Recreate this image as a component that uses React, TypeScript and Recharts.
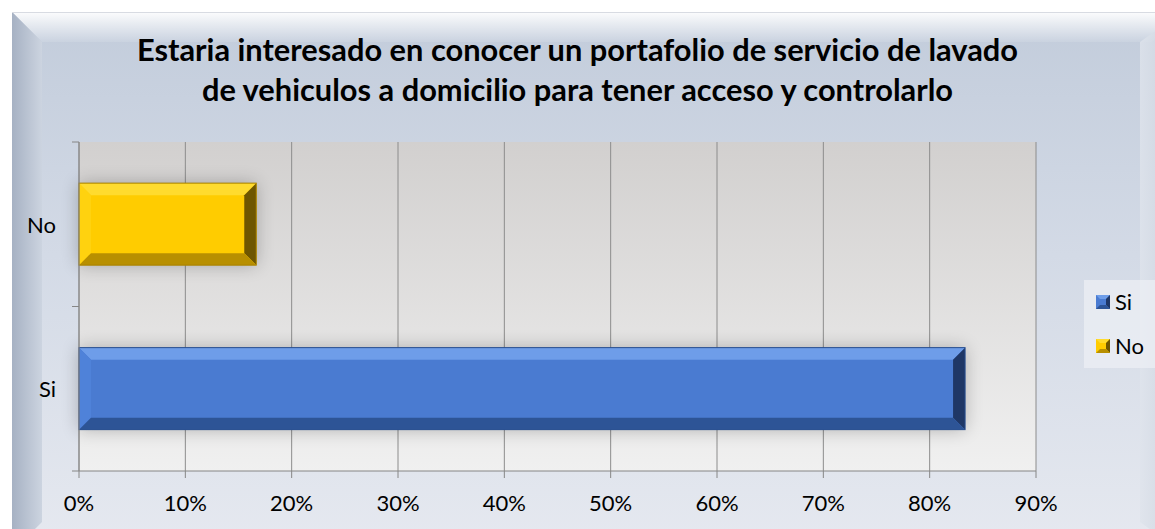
import React from 'react';
import { BarChart, Bar, XAxis, YAxis, CartesianGrid, Cell } from 'recharts';

const categories = ['No', 'Si'];
const values = [16.67, 83.33];
const xTicks = [0, 10, 20, 30, 40, 50, 60, 70, 80, 90];
const legendItems = ['Si', 'No'];
const titleLines = [
  'Estaria interesado en conocer un portafolio de servicio de lavado',
  'de vehiculos a domicilio para tener acceso y controlarlo',
];

const palettes: Record<string, any> = {
  Si: { main: '#4a7bd1', top: '#6e9de9', left: '#4f82d9', right: '#1f3766', bottom: '#2d5496', edge: '#2a4f8f' },
  No: { main: '#ffcc00', top: '#ffdb2e', left: '#ffd20f', right: '#6e5600', bottom: '#b88f00', edge: '#a88200' },
};

const data = categories.map((c, i) => ({ name: c, value: values[i] }));

const FONT = 'Lato, "Open Sans", sans-serif';
const W = 1155;
const H = 529;
const M = { top: 142, right: 119, bottom: 0, left: 0 };
const X_AXIS_H = 58;
const Y_AXIS_W = 79;
const BAND = (H - M.top - M.bottom - X_AXIS_H) / categories.length;

const BevelBar = (props: any) => {
  const { x, y, width, height, payload } = props;
  const c = palettes[payload.name];
  const b = 12;
  const w = width;
  const h = height;
  return (
    <g>
      <rect x={x} y={y} width={w} height={h} fill="#000" opacity={0.25} filter="url(#barShadow)" />
      <rect x={x} y={y} width={w} height={h} fill={c.main} />
      <polygon points={`${x},${y} ${x + w},${y} ${x + w - b},${y + b} ${x + b},${y + b}`} fill={c.top} />
      <polygon points={`${x},${y} ${x + b},${y + b} ${x + b},${y + h - b} ${x},${y + h}`} fill={c.left} />
      <polygon points={`${x + w},${y} ${x + w},${y + h} ${x + w - b},${y + h - b} ${x + w - b},${y + b}`} fill={c.right} />
      <polygon points={`${x},${y + h} ${x + w},${y + h} ${x + w - b},${y + h - b} ${x + b},${y + h - b}`} fill={c.bottom} />
      <rect x={x} y={y} width={w} height={h} fill="none" stroke={c.edge} strokeWidth={1} />
    </g>
  );
};

const YTick = (props: any) => {
  const { y, payload } = props;
  const ax = Y_AXIS_W;
  return (
    <g>
      <line x1={ax - 7} x2={ax} y1={y - BAND / 2} y2={y - BAND / 2} stroke="#868686" />
      <line x1={ax - 7} x2={ax} y1={y + BAND / 2} y2={y + BAND / 2} stroke="#868686" />
      <text x={56} y={y} textAnchor="end" dominantBaseline="central" fontFamily={FONT} fontSize={22} fill="#000">
        {payload.value}
      </text>
    </g>
  );
};

const LegendBox = () => (
  <div style={{ position: 'absolute', left: 1084, top: 280, width: 71, height: 88, background: 'rgba(236,239,244,0.75)' }}>
    {legendItems.map((name, i) => {
      const c = palettes[name];
      return (
        <div key={name} style={{ position: 'absolute', left: 12, top: 10 + i * 44, display: 'flex', alignItems: 'center', height: 24 }}>
          <svg width={14} height={14} style={{ marginRight: 5 }}>
            <rect x={0} y={0} width={14} height={14} fill={c.main} />
            <polygon points="0,0 14,0 10,4 4,4" fill={c.top} />
            <polygon points="14,0 14,14 10,10 10,4" fill={c.right} />
            <polygon points="0,14 14,14 10,10 4,10" fill={c.bottom} />
          </svg>
          <span style={{ fontFamily: FONT, fontSize: 22, color: '#000', lineHeight: '24px' }}>{name}</span>
        </div>
      );
    })}
  </div>
);

export default function App() {
  return (
    <div style={{ position: 'absolute', left: 0, top: 0, width: W, height: H, overflow: 'hidden', background: '#fff' }}>
      <svg width={W} height={H} style={{ position: 'absolute', left: 0, top: 0 }}>
        <defs>
          <linearGradient id="frameBg" x1="0" y1="0" x2="0" y2="1">
            <stop offset="0" stopColor="#c2ccdb" />
            <stop offset="0.45" stopColor="#d3dae6" />
            <stop offset="1" stopColor="#e6e9f0" />
          </linearGradient>
          <linearGradient id="topBevel" x1="0" y1="0" x2="0" y2="1">
            <stop offset="0" stopColor="#ffffff" stopOpacity={0.95} />
            <stop offset="1" stopColor="#ffffff" stopOpacity={0.1} />
          </linearGradient>
          <linearGradient id="leftBevel" x1="0" y1="0" x2="1" y2="0">
            <stop offset="0" stopColor="#a6b1c3" />
            <stop offset="1" stopColor="#ccd4e0" />
          </linearGradient>
          <linearGradient id="rightBevelF" x1="0" y1="0" x2="1" y2="0">
            <stop offset="0" stopColor="#dfe4ec" />
            <stop offset="1" stopColor="#c8d0dc" />
          </linearGradient>
          <linearGradient id="plotBg" x1="0" y1="0" x2="0" y2="1">
            <stop offset="0" stopColor="#d2d0cf" />
            <stop offset="1" stopColor="#f0f0f0" />
          </linearGradient>
          <filter id="barShadow" x="-20%" y="-40%" width="140%" height="180%">
            <feGaussianBlur stdDeviation="9" />
          </filter>
        </defs>
        <rect x={12} y={12} width={1170} height={540} fill="url(#frameBg)" />
        <polygon points="12,12 1182,12 1152,42 42,42" fill="url(#topBevel)" />
        <polygon points="12,12 42,42 42,522 12,552" fill="url(#leftBevel)" />
        <polygon points="1182,12 1182,552 1140,522 1140,42" fill="url(#rightBevelF)" opacity={0.8} />
        <line x1={12} y1={12.5} x2={1155} y2={12.5} stroke="#d8dbe2" />
      </svg>
      {titleLines.map((t, i) => (
        <div
          key={i}
          style={{
            position: 'absolute',
            left: 0,
            width: 1155,
            top: 31 + i * 40,
            textAlign: 'center',
            fontFamily: FONT,
            fontWeight: 700,
            fontSize: 30.8,
            lineHeight: '38px',
            color: '#000',
          }}
        >
          {t}
        </div>
      ))}
      <div style={{ position: 'absolute', left: 0, top: 0 }}>
        <BarChart width={W} height={H} data={data} layout="vertical" margin={M} barCategoryGap="25%">
          <CartesianGrid horizontal={false} vertical stroke="#8c8c8c" fill="url(#plotBg)" fillOpacity={1} />
          <XAxis
            type="number"
            domain={[0, 90]}
            ticks={xTicks}
            tickFormatter={(v: number) => `${v}%`}
            height={X_AXIS_H}
            axisLine={{ stroke: '#868686' }}
            tickLine={{ stroke: '#868686' }}
            tickSize={7}
            tickMargin={17}
            tick={{ fill: '#000', fontSize: 22, fontFamily: FONT }}
            interval={0}
          />
          <YAxis
            type="category"
            dataKey="name"
            width={Y_AXIS_W}
            axisLine={{ stroke: '#868686' }}
            tickLine={false}
            tick={<YTick />}
          />
          <Bar dataKey="value" isAnimationActive={false} shape={<BevelBar />}>
            {data.map((d) => (
              <Cell key={d.name} fill={palettes[d.name].main} />
            ))}
          </Bar>
        </BarChart>
      </div>
      <LegendBox />
    </div>
  );
}
